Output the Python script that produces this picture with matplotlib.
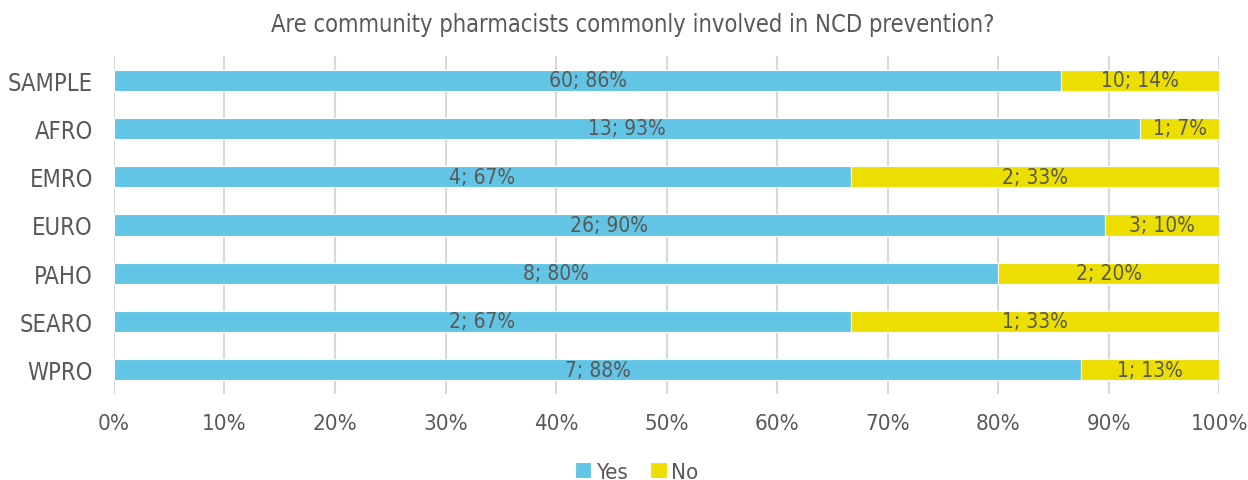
import matplotlib.pyplot as plt
import numpy as np

regions = ["SAMPLE", "AFRO", "EMRO", "EURO", "PAHO", "SEARO", "WPRO"]
yes = [60, 13, 4, 26, 8, 2, 7]
no = [10, 1, 2, 3, 2, 1, 1]

BLUE = "#63c5e5"
YELLOW = "#ecdf00"
TXT = "#595959"

plt.rcParams["font.family"] = ["DejaVu Sans"]
plt.rcParams["font.stretch"] = "condensed"
plt.rcParams["font.weight"] = "light"

yes = np.array(yes, dtype=float)
no = np.array(no, dtype=float)
tot = yes + no
p_yes = yes / tot
p_no = no / tot


def pct(v):
    # Excel style rounding, half up
    return f"{int(v * 100 + 0.5)}%"


fig = plt.figure(figsize=(12.48, 4.81), dpi=100)
ax = fig.add_axes([0.0913, 0.179, 0.8857, 0.7025])

y = np.arange(len(regions))
ax.barh(y, p_yes, height=0.44, color=BLUE, edgecolor="white", linewidth=0.8, label="Yes", zorder=3)
ax.barh(y, p_no, left=p_yes, height=0.44, color=YELLOW, edgecolor="white", linewidth=0.8, label="No", zorder=3)

for i in range(len(regions)):
    ax.text(p_yes[i] / 2, y[i], f"{int(yes[i])}; {pct(p_yes[i])}", ha="center", va="center",
            fontsize=15, color=TXT, zorder=4)
    ax.text(p_yes[i] + p_no[i] / 2, y[i], f"{int(no[i])}; {pct(p_no[i])}", ha="center", va="center",
            fontsize=15, color=TXT, zorder=4)

ax.set_xlim(0, 1)
ax.set_ylim(len(regions) - 0.5, -0.5)
ticks = np.arange(0, 1.01, 0.1)
ax.set_xticks(ticks)
ax.set_xticklabels([pct(v) for v in ticks])
ax.set_yticks(y)
ax.set_yticklabels(regions)
ax.tick_params(axis="both", length=0, labelcolor=TXT)
ax.tick_params(axis="x", pad=14, labelsize=16)
ax.tick_params(axis="y", pad=15, labelsize=17)
ax.grid(axis="x", color="#d9d9d9", linewidth=1.5, zorder=0)
for s in ax.spines.values():
    s.set_visible(False)

fig.text(0.507, 0.948, "Are community pharmacists commonly involved in NCD prevention?",
         ha="center", va="center", fontsize=17, color=TXT)

fig.legend(loc="lower center", bbox_to_anchor=(0.51, -0.045), ncol=2, frameon=False,
           fontsize=16, handlelength=0.75, handleheight=0.75, handletextpad=0.2,
           columnspacing=1.0, labelcolor=TXT)

fig.savefig("out.png")
